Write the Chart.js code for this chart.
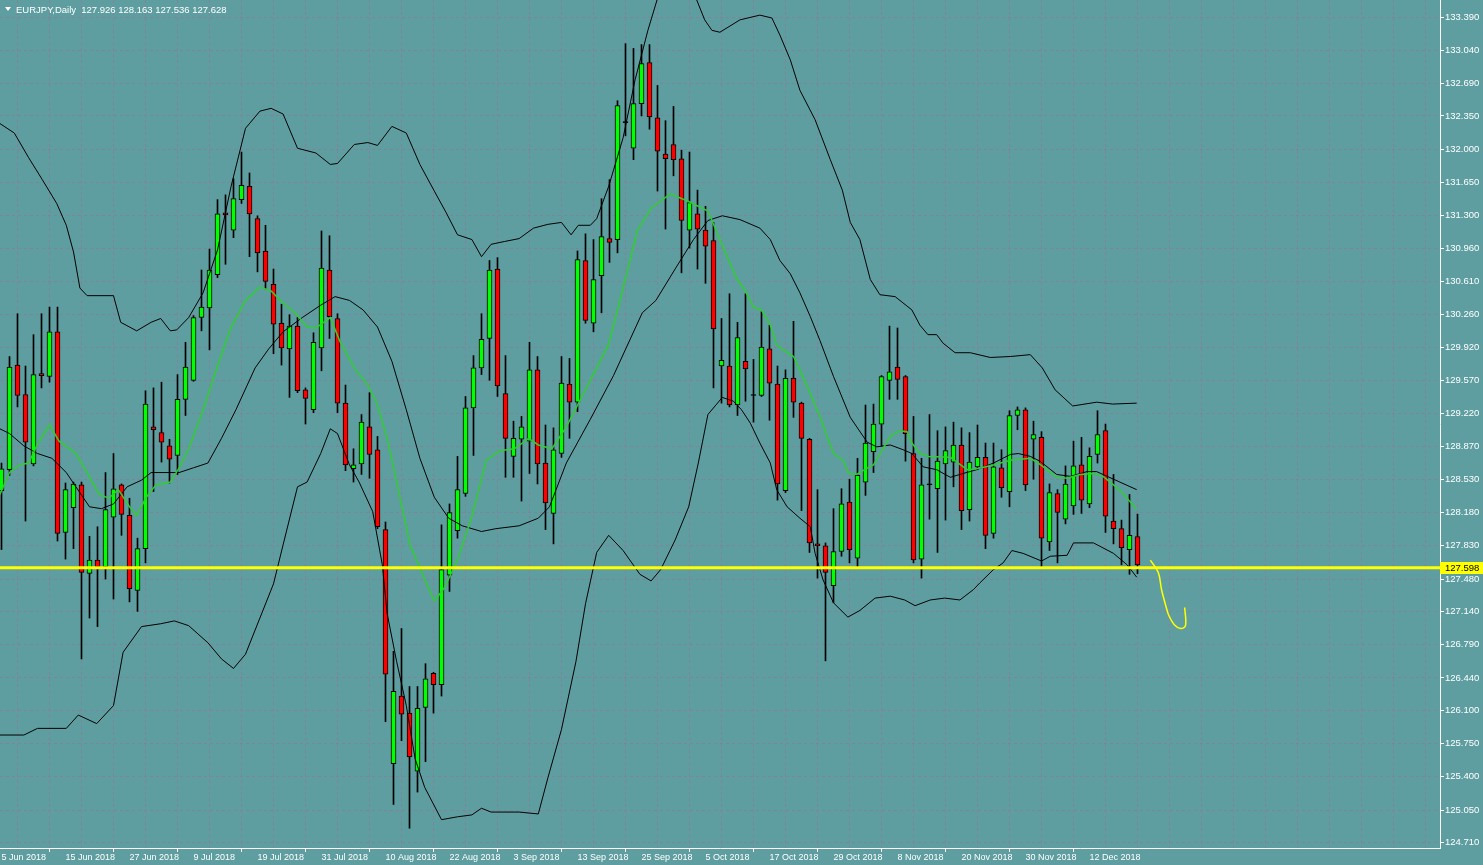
<!DOCTYPE html>
<html>
<head>
<meta charset="utf-8">
<title>EURJPY, Daily</title>
<script src="https://cdn.jsdelivr.net/npm/chart.js@4.4.1/dist/chart.umd.min.js"></script>
<style>
html, body { margin: 0; padding: 0; background: #5F9EA0; overflow: hidden; }
#wrap { width: 1483px; height: 865px; position: relative; }
</style>
</head>
<body>
<div id="wrap"><canvas id="canvas"></canvas></div>
<script>
// daily candles, 5 Jun 2018 .. 20 Dec 2018 (one per trading day)
var openP = [128.41,128.63,129.73,129.42,128.69,129.64,129.61,130.08,127.97,128.23,
    128.47,127.54,127.68,127.61,128.13,128.47,128.15,127.36,127.80,129.08,
    129.02,128.88,128.78,129.37,129.57,130.23,130.33,130.68,131.33,131.15,
    131.47,131.61,131.27,130.93,130.58,130.17,129.90,130.14,129.47,129.26,
    129.91,130.73,130.22,129.33,128.64,128.69,129.08,128.84,128.00,125.54,
    126.25,126.07,125.46,126.13,126.49,126.37,127.52,127.99,128.38,129.28,
    129.70,130.01,130.74,129.43,128.77,128.95,128.93,129.68,128.70,128.17,
    128.80,129.53,129.34,130.83,130.17,130.67,131.06,131.05,132.28,132.01,
    132.48,132.91,132.33,131.95,132.05,131.90,131.15,131.32,131.15,131.04,
    129.72,129.72,129.31,129.77,129.41,129.41,129.90,129.53,128.41,129.59,
    129.33,128.95,127.85,127.83,127.41,127.77,128.29,127.70,128.50,128.82,
    129.11,129.57,129.71,129.61,128.80,127.69,128.47,128.43,128.69,128.71,
    128.89,128.21,128.66,128.76,127.96,128.65,128.40,129.20,129.26,128.95,
    128.97,127.87,128.38,128.11,128.25,128.68,128.27,128.79,129.04,128.09,
    128.01,127.79,127.926];
var highP = [128.70,129.82,130.27,129.72,130.05,130.27,130.34,130.34,128.49,128.50,
    128.50,127.93,128.03,128.60,128.80,128.48,128.33,127.91,129.46,129.49,
    129.55,128.95,129.63,129.97,130.25,130.73,130.95,131.47,131.52,131.69,
    131.97,131.75,131.30,131.20,130.74,130.37,130.26,130.23,129.49,130.07,
    131.14,131.09,130.27,129.52,128.85,129.21,129.44,128.98,128.08,126.72,
    126.96,126.35,126.35,126.59,126.50,128.05,128.27,128.77,129.40,129.83,
    130.27,130.83,130.86,129.83,129.14,129.19,129.97,129.82,129.10,129.07,
    129.82,129.80,130.93,131.11,131.05,131.48,131.68,132.51,133.11,133.06,
    133.10,133.10,132.67,132.30,132.45,131.99,131.97,131.57,131.40,131.23,
    130.22,130.48,130.18,130.48,129.79,130.29,130.15,129.72,129.68,130.19,
    129.34,128.96,128.42,127.86,128.22,128.43,128.53,128.75,129.31,129.32,
    129.62,130.14,130.12,129.62,129.19,128.75,129.21,129.04,129.08,129.13,
    129.07,129.02,129.10,128.91,128.91,128.84,129.25,129.29,129.28,129.14,
    129.03,128.48,128.42,128.67,128.93,128.97,128.86,129.25,129.11,128.58,
    128.10,128.37,128.163];
var lowP = [127.79,128.57,129.29,128.09,128.67,129.49,129.55,127.88,127.69,127.80,
    126.64,127.07,126.98,127.48,127.27,127.94,127.24,127.14,127.65,128.40,
    128.71,128.49,128.58,129.20,129.56,130.09,129.89,130.65,130.79,131.07,
    131.43,130.87,130.71,130.53,129.85,129.73,129.39,129.44,129.11,129.23,
    129.67,130.01,129.23,128.62,128.50,128.58,128.54,128.01,125.98,125.11,
    125.78,124.86,125.24,125.56,126.07,126.25,127.35,127.91,128.35,128.78,
    129.63,129.57,129.40,128.55,128.55,128.30,128.59,128.48,128.00,127.85,
    128.76,128.96,129.24,130.17,130.08,130.28,130.81,130.91,132.14,131.89,
    132.35,132.21,131.56,131.16,131.72,130.70,130.96,130.74,130.59,129.49,
    129.33,129.29,129.20,129.35,129.13,129.40,129.15,128.31,128.39,129.18,
    128.20,127.76,127.49,126.62,127.23,127.72,127.65,127.60,128.36,128.60,
    128.88,129.37,129.37,128.72,127.65,127.49,128.11,127.76,128.10,128.45,
    128.00,128.09,128.63,127.80,127.91,128.34,128.24,129.05,128.41,128.53,
    127.60,127.78,127.65,128.06,128.16,128.17,128.23,128.70,127.97,127.85,
    127.63,127.53,127.536];
var closeP = [128.64,129.71,129.41,128.92,129.63,129.62,130.08,127.96,128.42,128.48,
    127.55,127.68,127.61,128.21,128.43,128.16,127.38,127.80,129.32,129.05,
    128.92,128.74,129.37,129.71,130.23,130.34,130.73,131.32,131.31,131.48,
    131.62,131.32,130.91,130.61,130.16,129.91,130.14,129.46,129.38,129.97,
    130.75,130.24,129.33,128.68,128.68,129.13,128.79,128.03,126.48,126.30,
    126.06,125.61,126.12,126.43,126.37,127.58,128.18,128.42,129.28,129.70,
    130.00,130.73,129.51,128.96,128.96,129.08,129.68,128.69,128.28,128.84,
    129.54,129.34,130.84,130.20,130.63,131.08,131.02,132.46,132.28,132.48,
    132.90,132.34,131.98,131.90,131.89,131.25,131.44,131.16,130.98,130.11,
    129.78,129.31,130.02,129.69,129.41,129.92,129.54,128.48,129.59,129.34,
    128.96,127.86,127.83,127.55,127.77,128.27,127.79,128.57,128.91,129.11,
    129.61,129.66,129.58,129.01,127.68,128.47,128.47,128.72,128.83,128.89,
    128.20,128.71,128.76,127.94,128.66,128.44,129.20,129.26,128.47,129.00,
    127.91,128.39,128.18,128.48,128.67,128.31,128.77,129.00,128.14,128.01,
    127.81,127.94,127.628];

// Bollinger bands (black) and moving average (green)
// x = bar position (0 = 5 Jun 2018), y = price
var upperX = [-0.2,1.6,3.4,5.1,6.9,8.1,9.0,9.8,10.7,14.0,14.9,16.9,18.7,19.9,21.1,21.9,23.4,25.2,27.0,28.7,
    30.5,32.3,33.7,35.2,37.0,39.3,41.1,42.0,44.1,45.8,47.0,48.8,50.6,52.3,54.1,55.6,57.0,58.8,60.0,61.2,
    62.9,64.7,66.5,68.3,70.0,71.2,72.1,73.6,74.4,75.9,77.7,79.2,80.8,82.3,84.8,86.9,87.9,88.8,89.8,92.3,
    94.8,96.3,97.3,98.6,99.8,101.7,103.6,105.1,106.1,107.3,108.6,109.8,111.7,113.8,114.8,115.8,116.9,117.7,119.2,121.1,
    123.6,126.1,128.6,130.1,131.7,133.9,136.9,138.9,141.9];
var upperY = [132.27,132.17,131.91,131.68,131.43,131.20,130.92,130.54,130.46,130.46,130.18,130.09,130.18,130.22,130.09,130.10,130.23,130.49,130.94,131.61,
    132.22,132.40,132.43,132.37,132.01,131.96,131.84,131.85,132.05,132.07,132.04,132.24,132.17,131.84,131.56,131.33,131.10,131.05,130.87,131.00,
    131.03,131.06,131.17,131.21,131.23,131.10,131.20,131.20,131.27,131.61,132.12,132.73,133.25,133.67,133.99,133.57,133.36,133.25,133.23,133.36,
    133.41,133.38,133.20,132.94,132.62,132.31,131.89,131.57,131.23,131.05,130.63,130.47,130.45,130.31,130.15,130.05,130.05,129.96,129.86,129.86,
    129.81,129.82,129.84,129.70,129.47,129.30,129.34,129.32,129.33];
var middleX = [-0.2,1.0,2.8,4.5,6.3,8.1,9.3,11.0,12.5,14.0,15.7,17.5,18.7,22.2,24.0,25.8,27.5,29.3,31.7,33.4,
    35.2,37.6,39.9,41.7,43.5,45.2,47.0,48.8,50.6,52.3,54.1,55.9,57.6,60.0,61.8,64.7,67.1,68.5,70.6,73.6,
    76.5,80.1,81.8,84.2,86.5,88.3,90.1,92.3,94.8,96.1,97.3,98.6,99.8,101.1,102.3,104.0,106.1,108.2,109.4,111.1,
    112.7,113.8,115.2,116.9,118.6,120.2,121.9,124.0,126.1,127.1,128.6,129.8,131.9,133.6,135.7,136.9,139.0,141.9];
var middleY = [129.06,129.01,128.88,128.80,128.75,128.60,128.45,128.24,128.22,128.27,128.45,128.52,128.60,128.60,128.65,128.70,128.96,129.26,129.70,129.90,
    130.08,130.23,130.36,130.45,130.41,130.31,130.13,129.77,129.26,128.75,128.34,128.12,128.04,127.98,128.01,128.04,128.12,128.24,128.70,129.16,
    129.62,130.28,130.41,130.74,131.05,131.25,131.30,131.26,131.17,131.05,130.83,130.69,130.49,130.24,129.99,129.61,129.18,128.92,128.87,128.89,
    128.84,128.80,128.66,128.63,128.55,128.59,128.63,128.70,128.79,128.80,128.77,128.72,128.58,128.56,128.61,128.61,128.53,128.42];
var lowerX = [-0.2,2.8,4.5,8.1,9.6,11.9,14.0,15.2,17.5,19.9,21.6,23.4,25.8,27.5,29.0,30.5,32.3,34.0,35.2,37.0,
    38.2,39.9,41.1,42.0,43.5,44.7,46.4,47.6,48.2,49.4,50.6,51.7,52.9,55.0,57.0,58.8,60.0,61.2,64.7,67.1,
    68.3,70.0,71.8,73.0,74.4,75.9,77.7,79.8,81.2,82.4,84.2,85.9,87.1,88.3,90.1,91.5,92.5,93.6,94.8,96.1,
    96.9,98.2,99.8,101.1,101.7,102.7,104.0,105.8,107.3,109.2,111.1,112.9,114.2,116.1,117.9,119.8,121.5,122.3,124.0,125.2,
    126.3,127.7,130.0,131.1,133.2,134.0,136.5,139.0,140.7,141.9];
var lowerY = [125.84,125.84,125.91,125.91,126.05,125.96,126.15,126.71,126.98,127.01,127.04,126.99,126.81,126.64,126.54,126.69,127.07,127.43,127.84,128.45,
    128.50,128.80,129.06,129.01,128.68,128.50,128.19,127.63,127.12,126.61,126.15,125.59,125.29,124.95,124.98,125.00,125.07,125.03,125.03,125.01,
    125.39,125.90,126.61,127.22,127.76,127.94,127.78,127.53,127.46,127.58,127.89,128.24,128.70,129.21,129.39,129.35,129.26,129.12,128.91,128.70,
    128.42,128.24,128.12,128.03,127.75,127.47,127.23,127.08,127.15,127.28,127.30,127.26,127.20,127.26,127.28,127.26,127.37,127.44,127.58,127.65,
    127.78,127.75,127.67,127.72,127.73,127.86,127.86,127.75,127.63,127.50];
var maX = [-0.2,1.0,2.2,3.4,4.5,6.0,7.2,9.3,10.7,12.2,13.4,14.6,16.0,16.9,18.1,19.3,21.1,22.2,23.4,25.2,
    27.0,28.7,30.5,32.3,33.7,35.2,36.7,38.2,39.3,41.1,42.3,44.1,45.8,47.0,48.2,49.4,51.1,52.9,54.1,55.3,
    57.0,58.8,60.6,62.3,64.1,65.9,67.1,68.8,70.6,73.6,75.9,77.7,79.5,81.2,83.6,85.9,88.3,90.1,91.9,92.9,
    94.0,95.0,96.1,96.9,99.0,99.8,101.1,102.3,103.2,104.0,105.2,105.9,106.9,107.9,109.0,111.1,112.3,113.2,113.8,114.8,
    115.9,118.6,119.6,120.7,121.9,124.0,126.1,128.6,129.6,130.7,131.9,133.2,134.8,136.5,137.7,139.0,140.2,141.9];
var maY = [128.37,128.60,128.68,128.70,128.90,129.10,128.93,128.80,128.60,128.37,128.33,128.42,128.24,128.15,128.34,128.47,128.50,128.65,128.85,129.26,
    129.72,130.13,130.41,130.55,130.51,130.38,130.28,130.13,130.12,130.23,129.98,129.70,129.52,129.31,128.96,128.50,127.83,127.48,127.25,127.38,
    127.68,128.14,128.73,128.83,128.85,128.96,128.89,128.85,129.08,129.57,129.95,130.54,131.15,131.38,131.53,131.45,131.35,130.99,130.64,130.52,
    130.34,130.31,130.15,129.94,129.82,129.68,129.43,129.19,128.98,128.80,128.73,128.59,128.58,128.63,128.68,128.98,129.04,129.03,128.91,128.80,
    128.77,128.76,128.70,128.63,128.64,128.68,128.73,128.75,128.70,128.63,128.55,128.54,128.58,128.59,128.56,128.47,128.38,128.21];

var dateTicks = ['5 Jun 2018','15 Jun 2018','27 Jun 2018','9 Jul 2018','19 Jul 2018',
    '31 Jul 2018','10 Aug 2018','22 Aug 2018','3 Sep 2018','13 Sep 2018','25 Sep 2018',
    '5 Oct 2018','17 Oct 2018','29 Oct 2018','8 Nov 2018','20 Nov 2018','30 Nov 2018',
    '12 Dec 2018'];
var priceTicks = [133.39,133.04,132.69,132.35,132.00,131.65,131.30,130.96,130.61,130.26,
    129.92,129.57,129.22,128.87,128.53,128.18,127.83,127.48,127.14,126.79,
    126.44,126.10,125.75,125.40,125.05,124.71];

var levelPrice = 127.598;
var arrowX = [143.6,144.6,145.0,145.5,145.9,146.6,147.4,148.0,147.9];
var arrowY = [127.68,127.55,127.37,127.21,127.10,127.00,126.96,126.99,127.18];

var titleText = 'EURJPY,Daily  127.926 128.163 127.536 127.628';

var GRID = '#80849a';
var FONT = 'Liberation Sans';

function pts(xs, ys) {
    return xs.map(function(x, i) { return {x: x, y: ys[i]}; });
}

function lineSet(xs, ys, color, width) {
    return {
        type: 'line',
        data: pts(xs, ys),
        borderColor: color,
        borderWidth: width,
        pointRadius: 0,
        tension: 0,
        order: 1
    };
}

var wicks = openP.map(function(o, i) { return {x: i, y: [lowP[i], highP[i]]}; });
var bodies = openP.map(function(o, i) { return {x: i, y: [o, closeP[i]]}; });
var bodyColors = openP.map(function(o, i) {
    if (closeP[i] > o) return '#00FF00';
    if (closeP[i] < o) return '#FF0000';
    return '#000000';
});

var overlay = {
    id: 'overlay',
    afterDraw: function(chart) {
        var ctx = chart.ctx;
        var area = chart.chartArea;
        var y = Math.round(chart.scales.y.getPixelForValue(levelPrice));
        ctx.save();
        // price tag for the horizontal level
        ctx.fillStyle = '#FFFF00';
        ctx.fillRect(area.right, y - 6, chart.width - area.right, 12);
        ctx.fillStyle = '#000';
        ctx.font = '9.5px ' + FONT;
        ctx.textBaseline = 'middle';
        ctx.fillText(levelPrice.toFixed(3), area.right + 5, y + 0.5);
        // title
        ctx.fillStyle = '#fff';
        ctx.beginPath();
        ctx.moveTo(5, 7); ctx.lineTo(11, 7); ctx.lineTo(8, 11); ctx.closePath();
        ctx.fill();
        ctx.font = '9.5px ' + FONT;
        ctx.fillText(titleText, 16, 10.5);
        ctx.restore();
    }
};

window.onload = function() {
    var ctx = document.getElementById('canvas').getContext('2d');
    var level = lineSet([-2, 182], [levelPrice, levelPrice], '#FFFF00', 3);
    level.order = 0;
    var arrow = lineSet(arrowX, arrowY, '#FFFF00', 1.5);
    arrow.tension = 0.35;
    arrow.order = 0;
    window.chart = new Chart(ctx, {
        type: 'bar',
        data: {
            datasets: [
                level,
                arrow,
                lineSet(maX, maY, '#32CD32', 1.5),
                lineSet(upperX, upperY, '#000', 1),
                lineSet(middleX, middleY, '#000', 1),
                lineSet(lowerX, lowerY, '#000', 1),
                {
                    data: bodies,
                    backgroundColor: bodyColors,
                    borderColor: '#000',
                    borderWidth: 1,
                    borderSkipped: false,
                    barThickness: 5,
                    minBarLength: 1,
                    grouped: false,
                    order: 2
                }, {
                    data: wicks,
                    backgroundColor: '#000',
                    borderWidth: 0,
                    barThickness: 1,
                    grouped: false,
                    order: 3
                }
            ]
        },
        options: {
            responsive: true,
            maintainAspectRatio: false,
            animation: false,
            layout: { padding: 0 },
            plugins: {
                legend: { display: false },
                title: { display: false },
                tooltip: { enabled: false }
            },
            scales: {
                x: {
                    type: 'linear',
                    min: -0.1875,
                    max: 179.8125,
                    offset: false,
                    afterBuildTicks: function(s) {
                        var t = [];
                        for (var v = 0; v <= 176; v += 4) t.push({value: v});
                        s.ticks = t;
                    },
                    afterFit: function(s) {
                        s.height = 17;
                        s.paddingLeft = 0;
                        s.paddingRight = 0;
                    },
                    grid: {
                        color: GRID,
                        tickLength: 4,
                        tickColor: function(c) {
                            return (c.tick && c.tick.value % 8 === 0 && c.tick.value / 8 < dateTicks.length) ? '#fff' : 'rgba(0,0,0,0)';
                        }
                    },
                    border: { color: '#fff', dash: [3, 3] },
                    ticks: {
                        color: '#fff',
                        font: { family: FONT, size: 9 },
                        align: 'start',
                        padding: 0,
                        maxRotation: 0,
                        autoSkip: false,
                        callback: function(v) {
                            return (v % 8 === 0 && dateTicks[v / 8]) ? dateTicks[v / 8] : '';
                        }
                    }
                },
                y: {
                    position: 'right',
                    min: 124.652,
                    max: 133.569,
                    afterBuildTicks: function(s) {
                        s.ticks = priceTicks.map(function(v) { return {value: v}; });
                    },
                    afterFit: function(s) {
                        s.width = 43;
                        s.paddingTop = 0;
                        s.paddingBottom = 0;
                    },
                    grid: { color: GRID, tickLength: 4, tickColor: '#fff' },
                    border: { color: '#fff', dash: [3, 3] },
                    ticks: {
                        color: '#fff',
                        font: { family: FONT, size: 9.5 },
                        padding: 1,
                        callback: function(v) { return v.toFixed(3); }
                    }
                }
            }
        },
        plugins: [overlay]
    });
};
</script>
</body>
</html>
